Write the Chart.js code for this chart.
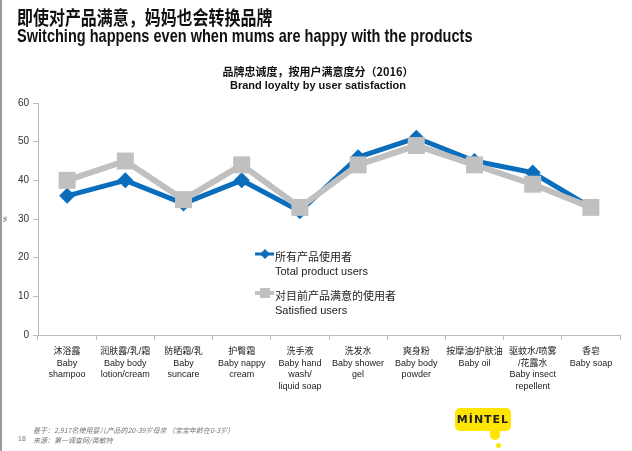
<!DOCTYPE html>
<html>
<head>
<meta charset="utf-8">
<script src="https://cdn.jsdelivr.net/npm/chart.js@4.4.1/dist/chart.umd.min.js"></script>
<style>
  body { margin: 0; background: #fff; }
  #page { position: relative; width: 632px; height: 451px; overflow: hidden; border-left: 2px solid #9a9a9a; box-sizing: border-box; font-family: "Liberation Sans", Arial, sans-serif; }
  #c { position: absolute; left: 0; top: 0; }
  .t { position: absolute; white-space: nowrap; color: #111; transform-origin: left top; }
  #cn { left: 15px; top: 3px; font: bold 19px "Noto Sans CJK SC", sans-serif; transform: scaleX(0.84); }
  #en { left: 15px; top: 25px; font: bold 19px "Liberation Sans", Arial, sans-serif; transform: scaleX(0.765); }
  .ct { position: absolute; width: 632px; left: 0; text-align: center; font-weight: bold; color: #111; }
  #ct1 { top: 63px; font: bold 11px "Noto Sans CJK SC", sans-serif; }
  #ct2 { top: 79px; font: bold 11px "Liberation Sans", Arial, sans-serif; }
  .foot { position: absolute; left: 31px; font: italic 7px "Noto Sans CJK SC", sans-serif; color: #777; }
  #pg { position: absolute; left: 16px; top: 435px; font: 7px "Liberation Sans", Arial, sans-serif; color: #777; }
  #logo { position: absolute; left: 453px; top: 408px; width: 56px; height: 23px; background: #ffe600; border-radius: 5px; font: bold 11px "DejaVu Sans", sans-serif; color: #222; text-align: center; line-height: 23px; letter-spacing: 1px; }
  #drip { position: absolute; left: 488px; top: 428px; width: 10px; height: 12px; background: #ffe600; border-radius: 0 0 6px 6px; }
  #dot { position: absolute; left: 494px; top: 443px; width: 5px; height: 5px; background: #ffe600; border-radius: 50%; }
</style>
</head>
<body>
<div id="page">
  <canvas id="c" width="630" height="451"></canvas>
  <div class="t" id="cn">即使对产品满意，妈妈也会转换品牌</div>
  <div class="t" id="en">Switching happens even when mums are happy with the products</div>
  <div class="ct" id="ct1">品牌忠诚度，按用户满意度分（2016）</div>
  <div class="ct" id="ct2">Brand loyalty by user satisfaction</div>
  <div class="foot" style="top:425px">基于：2,917名使用婴儿产品的20-39岁母亲 （宝宝年龄在0-3岁）</div>
  <div class="foot" style="top:435px">来源：第一调查网/英敏特</div>
  <div id="pg">18</div>
  <div id="drip"></div><div id="dot"></div>
  <div id="logo">MİNTEL</div>
</div>
<script>
// categories (Chinese / English lines)
const categorias = [
  ["沐浴露", "Baby", "shampoo"],
  ["润肤露/乳/霜", "Baby body", "lotion/cream"],
  ["防晒霜/乳", "Baby", "suncare"],
  ["护臀霜", "Baby nappy", "cream"],
  ["洗手液", "Baby hand", "wash/", "liquid soap"],
  ["洗发水", "Baby shower", "gel"],
  ["爽身粉", "Baby body", "powder"],
  ["按摩油/护肤油", "Baby oil"],
  ["驱蚊水/喷雾", "/花露水", "Baby insect", "repellent"],
  ["香皂", "Baby soap"]
];
const totalUsuarios = [36, 40, 34, 40, 32, 46, 51, 45, 42, 33];
const satisfechos   = [40, 45, 35, 44, 33, 44, 49, 44, 39, 33];
const yTicks = [0, 10, 20, 30, 40, 50, 60];

const leyenda = [
  { cn: "所有产品使用者", en: "Total product users", color: "#0a6ebd", shape: "diamond" },
  { cn: "对目前产品满意的使用者", en: "Satisfied users", color: "#c0c0c0", shape: "square" }
];

// legend drawn inside the chart area
const legendPlugin = {
  id: "legendaInterna",
  afterDraw(chart) {
    const ctx = chart.ctx;
    const x0 = 253, ys = [254, 293];
    ctx.save();
    leyenda.forEach((l, i) => {
      const y = ys[i];
      ctx.strokeStyle = l.color;
      ctx.fillStyle = l.color;
      ctx.lineWidth = l.shape === "diamond" ? 3 : 4;
      ctx.beginPath(); ctx.moveTo(x0, y); ctx.lineTo(x0 + 19, y); ctx.stroke();
      const cx = x0 + 10;
      ctx.beginPath();
      if (l.shape === "diamond") {
        ctx.moveTo(cx - 5, y); ctx.lineTo(cx, y - 5); ctx.lineTo(cx + 5, y); ctx.lineTo(cx, y + 5);
      } else {
        ctx.rect(cx - 5, y - 5, 10, 10);
      }
      ctx.fill();
      ctx.fillStyle = "#222";
      ctx.textBaseline = "middle";
      ctx.font = '11px "Noto Sans CJK SC", sans-serif';
      ctx.fillText(l.cn, x0 + 20, y + 3);
      ctx.font = '11px "Liberation Sans", Arial, sans-serif';
      ctx.fillText(l.en, x0 + 20, y + 18);
    });
    ctx.restore();
  }
};

new Chart(document.getElementById("c"), {
  type: "line",
  data: {
    labels: categorias,
    datasets: [
      {
        label: leyenda[0].en,
        data: totalUsuarios,
        borderColor: "#0a6ebd",
        backgroundColor: "#0a6ebd",
        borderWidth: 5,
        pointStyle: "rectRot",
        pointRadius: 8,
        pointBorderWidth: 0,
        order: 2
      },
      {
        label: leyenda[1].en,
        data: satisfechos,
        borderColor: "#c0c0c0",
        backgroundColor: "#c0c0c0",
        borderWidth: 6,
        pointStyle: "rect",
        pointRadius: 12,
        pointBorderWidth: 0,
        order: 1
      }
    ]
  },
  options: {
    responsive: false,
    animation: false,
    layout: { padding: { top: 103, right: 7, left: 0, bottom: 0 } },
    plugins: { legend: { display: false }, tooltip: { enabled: false } },
    scales: {
      x: {
        offset: true,
        grid: { display: true, drawOnChartArea: false, offset: true, tickLength: 5, color: "#bbb" },
        border: { color: "#bbb" },
        ticks: {
          autoSkip: false, maxRotation: 0, minRotation: 0, padding: 6,
          color: "#222",
          font: { family: '"Liberation Sans", "Noto Sans CJK SC", sans-serif', size: 9, lineHeight: 1.28 }
        },
        afterFit(scale) { scale.height = 116; }
      },
      y: {
        min: 0, max: 60,
        afterBuildTicks(scale) { scale.ticks = yTicks.map(v => ({ value: v })); },
        grid: { display: true, drawOnChartArea: false, tickLength: 5, color: "#bbb" },
        border: { color: "#bbb" },
        title: { display: true, text: "%", font: { size: 6 }, color: "#444", padding: 0 },
        ticks: { color: "#333", padding: 4, font: { family: '"Liberation Sans", Arial, sans-serif', size: 10 } },
        afterFit(scale) { scale.width = 36; }
      }
    }
  },
  plugins: [legendPlugin]
});
</script>
</body>
</html>
